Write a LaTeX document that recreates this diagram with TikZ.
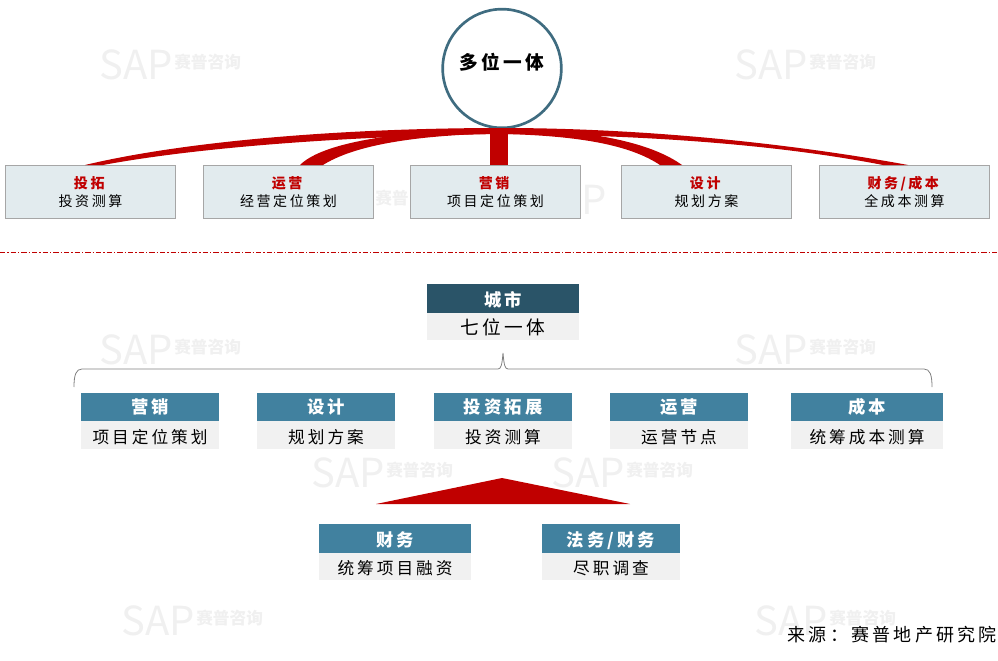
\documentclass[tikz,border=0pt]{standalone}
\usepackage{fontspec}
\setmainfont[LetterSpace=18]{Noto Sans CJK SC}
\newfontfamily\markfont{Noto Sans CJK SC}
\usetikzlibrary{positioning}
\definecolor{hubline}{HTML}{3F6C80}
\definecolor{ribbon}{HTML}{C00000}
\definecolor{topfill}{HTML}{E2EBEE}
\definecolor{cityhead}{HTML}{2A5468}
\definecolor{headfill}{HTML}{41819F}
\definecolor{bodyfill}{HTML}{F1F1F1}
\definecolor{markgray}{HTML}{F0F0F0}
\tikzset{
  topbox/.style={draw=black!35,fill=topfill,line width=0.7pt,minimum width=127pt,minimum height=39.5pt,align=center,font=\fontsize{10.5}{14}\selectfont,text=black},
  headbox/.style={fill=headfill,text=white,font=\fontsize{13}{14}\bfseries\selectfont,minimum height=21.5pt,inner sep=0pt,outer sep=0pt},
  bodybox/.style={fill=bodyfill,text=black,font=\fontsize{12.5}{14}\selectfont,minimum height=20.5pt,inner sep=0pt,outer sep=0pt},
  lowtext/.style={text height=12.5pt,text depth=0pt},
  wide/.style={minimum width=114pt},
  narrow/.style={minimum width=103.5pt},
  markbox/.style={text=markgray,font=\markfont\fontsize{12.5}{14}\bfseries\selectfont,inner sep=0pt},
  markword/.style={text=markgray,font=\markfont\fontsize{30}{30}\selectfont,inner sep=0pt}
}
\begin{document}
\begin{tikzpicture}[x=0.75pt,y=-0.75pt]
\useasboundingbox (0,0) rectangle (998,660);
% watermarks
\foreach \mx/\my [count=\mi] in {99/65,734/65,99/350,734/350,311/473,551/473,121/621,754/621}{
  \node[markword,anchor=west] (sap\mi) at (\mx,\my) {SAP};
  \node[markbox,anchor=west] (zixun\mi) at (\mx+75,\my-3) {赛普咨询};
}
\node[markbox,anchor=west] (zixungap) at (375,198) {赛普};
\node[markword,anchor=west] (sapgap) at (581,200) {P};
% top row
\node[draw=hubline,line width=2pt,circle,fill=white,minimum size=89pt,inner sep=0pt,font=\fontsize{14}{15}\bfseries\selectfont] (hub) at (502,68.5) {\raisebox{-0.8pt}[0pt][0pt]{多位一体}};
\node[topbox] (tuozhan) at (90.5,192) {{\color{ribbon}\textbf{投拓}}\\投资测算};
\node[topbox] (yunying) at (288.5,192) {{\color{ribbon}\textbf{运营}}\\经营定位策划};
\node[topbox] (yingxiao) at (495.5,192) {{\color{ribbon}\textbf{营销}}\\项目定位策划};
\node[topbox] (sheji) at (706.5,192) {{\color{ribbon}\textbf{设计}}\\规划方案};
\node[topbox] (caiwu) at (904.5,192) {{\color{ribbon}\textbf{财务/成本}}\\全成本测算};
% ribbons from the circle down to the boxes
\fill[ribbon] (85,165) .. controls (190,140) and (350,128) .. (502,128) -- (502,134)
  .. controls (350,136) and (200,147) .. (103,165) -- cycle;
\fill[ribbon] (300,165) .. controls (320,145) and (380,134) .. (460,130) -- (480,134)
  .. controls (400,137) and (350,148) .. (323,165) -- cycle;
\fill[ribbon] (490,130) rectangle (508,165);
\fill[ribbon] (682,165) .. controls (650,142) and (590,130) .. (505,128) -- (505,134)
  .. controls (580,136) and (630,145) .. (660,165) -- cycle;
\fill[ribbon] (908,165) .. controls (800,145) and (650,128) .. (502,128) -- (502,134)
  .. controls (650,135) and (780,145) .. (883,165) -- cycle;
\draw[ribbon,line width=0.6pt,dash pattern=on 4pt off 1.5pt on 1pt off 1.5pt] (0,252) -- (998,252);
% city block
\node[headbox,wide,fill=cityhead,lowtext] (cheng) at (503,298.5) {城市};
\node[bodybox,wide,below=0pt of cheng,font=\fontsize{14}{15}\selectfont,lowtext] (qiwei) {七位一体};
% brace
\coordinate (braceleft) at (74,387);
\coordinate (braceright) at (932,387);
\coordinate (bracetip) at (503,353);
\draw[black!50,line width=0.6pt] (braceleft) .. controls (74,375) and (76,369) .. (82,369) -- (498,369)
  .. controls (501,369) and (502,365) .. (bracetip) .. controls (504,365) and (505,369) .. (508,369) -- (924,369)
  .. controls (930,369) and (932,375) .. (braceright);
% seven roles
\node[headbox,narrow] (yx) at (150,407) {营销};
\node[bodybox,narrow,below=0pt of yx,lowtext] (yxb) {项目定位策划};
\node[headbox,narrow] (sj) at (326,407) {设计};
\node[bodybox,narrow,below=0pt of sj,lowtext] (sjb) {规划方案};
\node[headbox,narrow] (tz) at (503,407) {投资拓展};
\node[bodybox,narrow,below=0pt of tz,lowtext] (tzb) {投资测算};
\node[headbox,narrow] (yy) at (679,407) {运营};
\node[bodybox,narrow,below=0pt of yy,lowtext] (yyb) {运营节点};
\node[headbox,wide] (cb) at (867,407) {成本};
\node[bodybox,wide,below=0pt of cb,lowtext] (cbb) {统筹成本测算};
% triangle
\fill[ribbon] (376,504) -- (502,478) -- (630,504) -- cycle;
\node[headbox,wide,lowtext] (cw) at (395,538.5) {财务};
\node[bodybox,wide,below=0pt of cw,lowtext] (cwb) {统筹项目融资};
\node[headbox,narrow,lowtext] (fw) at (611,538.5) {法务/财务};
\node[bodybox,narrow,below=0pt of fw,lowtext] (fwb) {尽职调查};
\node[anchor=east,inner sep=0pt,font=\fontsize{13.5}{15}\selectfont] (laiyuan) at (997,635) {来源：赛普地产研究院};
\end{tikzpicture}
\end{document}
